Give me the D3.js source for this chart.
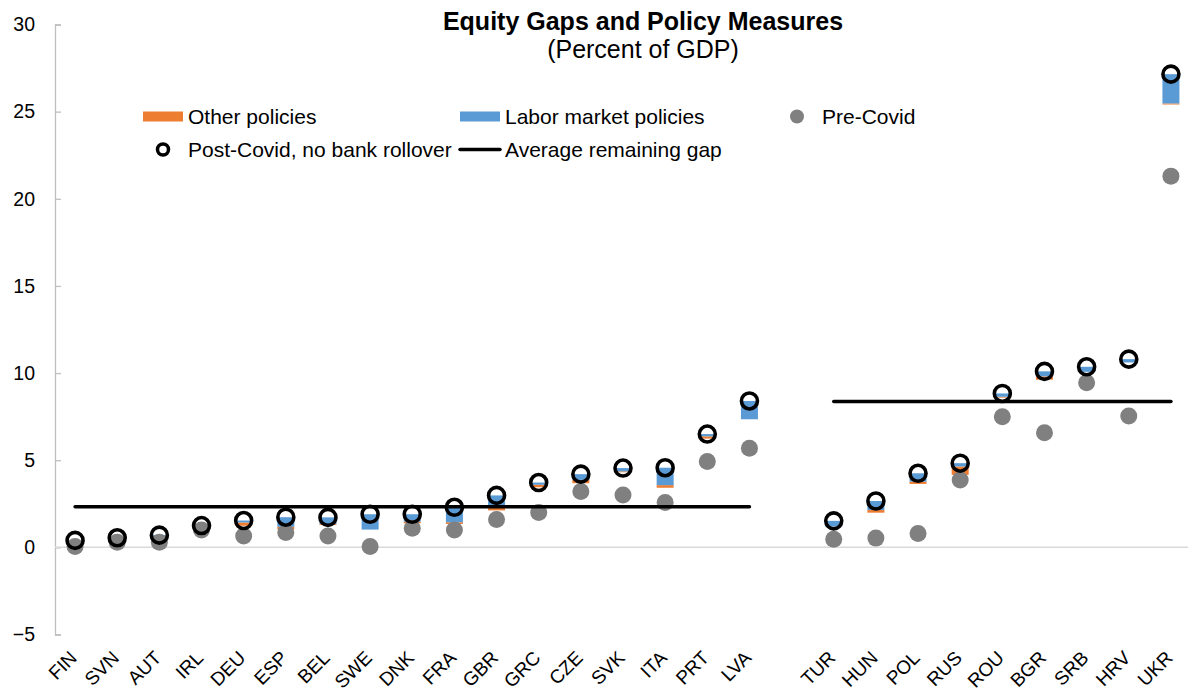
<!DOCTYPE html>
<html>
<head>
<meta charset="utf-8">
<script src="https://cdn.jsdelivr.net/npm/d3@7"></script>
<style>
  body { margin: 0; background: #fff; }
  text { font-family: "Liberation Sans", Arial, sans-serif; fill: #000; }
</style>
</head>
<body>
<div id="viz"></div>
<script>
const domID = "#viz"
const width = 1188, height = 694

// categories ("" = empty slot between the two country groups)
const categories = ["FIN", "SVN", "AUT", "IRL", "DEU", "ESP", "BEL", "SWE", "DNK", "FRA", "GBR", "GRC", "CZE", "SVK", "ITA", "PRT", "LVA", "",
    "TUR", "HUN", "POL", "RUS", "ROU", "BGR", "SRB", "HRV", "UKR"]

// Post-Covid, no bank rollover
const postCovid = [0.4, 0.55, 0.7, 1.25, 1.54, 1.73, 1.72, 1.9, 1.9, 2.3, 2.98, 3.72, 4.2, 4.55, 4.57, 6.5, 8.4, null,
    1.52, 2.66, 4.25, 4.83, 8.83, 10.1, 10.36, 10.8, 27.15]
// Pre-Covid
const preCovid = [0.05, 0.3, 0.3, 1.0, 0.65, 0.85, 0.65, 0.05, 1.1, 1.0, 1.6, 2.0, 3.2, 3.0, 2.57, 4.92, 5.68, null,
    0.47, 0.53, 0.79, 3.87, 7.5, 6.58, 9.45, 7.54, 21.3]
// policy measures (stacked just below the post-Covid value)
const laborPolicies = [0.1, 0.1, 0.1, 0.15, 0.11, 0.55, 0.38, 0.88, 0.42, 0.86, 0.63, 0.13, 0.33, 0.19, 1.0, 0.13, 1.05, null,
    0.33, 0.52, 0.48, 0.19, 0.19, 0.29, 0.29, 0.19, 1.68]
const otherPolicies = [0, 0, 0, 0.05, 0.19, 0.15, 0.05, 0, 0.1, 0.1, 0.23, 0.14, 0.19, 0.05, 0.15, 0.13, 0, null,
    0, 0.15, 0.13, 0.48, 0.05, 0.19, 0, 0, 0.06]

// Average remaining gap per group
const avgFrom = ["FIN", "TUR"]
const avgTo = ["LVA", "UKR"]
const avgValue = [2.33, 8.37]

const yTicks = [-5, 0, 5, 10, 15, 20, 25, 30]

const colors = {
    other: "#ED7D31",
    labor: "#5B9BD5",
    pre: "#808080",
    axis: "#BFBFBF",
}

let svg = d3.select(domID).append("svg")
    .attr("width", width).attr("height", height)

const x = d3.scaleBand().domain(categories).range([54, 1192]).padding(0)
const y = d3.scaleLinear().domain([-5, 30]).range([634.5, 24.5])
const barW = 17
const cx = d => x(d) + x.bandwidth() / 2

// y axis
const yAxis = d3.axisLeft(y).tickValues(yTicks).tickSize(-6).tickPadding(20).tickFormat(d3.format("d"))
let gy = svg.append("g").attr("transform", "translate(55,0)").call(yAxis)
gy.select(".domain").attr("stroke", colors.axis).attr("stroke-width", 1.3)
gy.selectAll(".tick line").attr("stroke", colors.axis).attr("stroke-width", 1.3)
gy.selectAll(".tick text").attr("font-size", 19.5).attr("font-family", "Liberation Sans, Arial, sans-serif").attr("fill", "#000")

// zero line
svg.append("line")
    .attr("x1", 55).attr("x2", width).attr("y1", y(0)).attr("y2", y(0))
    .attr("stroke", "#D9D9D9").attr("stroke-width", 1.5)

// x labels
svg.append("g").selectAll("text")
    .data(categories.filter(d => d !== ""))
    .join("text")
    .attr("transform", d => `translate(${cx(d) + 3},${659}) rotate(-45)`)
    .attr("text-anchor", "end")
    .attr("font-size", 19)
    .text(d => d)

// stacked bars (base is invisible)
const rows = categories.map((c, i) => ({ c, post: postCovid[i], pre: preCovid[i], labor: laborPolicies[i], other: otherPolicies[i] }))
    .filter(d => d.c !== "")

const bars = svg.append("g")
bars.selectAll("rect.other").data(rows).join("rect").attr("class", "other")
    .attr("x", d => cx(d.c) - barW / 2)
    .attr("width", barW)
    .attr("y", d => y(d.post - d.labor))
    .attr("height", d => y(d.post - d.labor - d.other) - y(d.post - d.labor))
    .attr("fill", colors.other)
bars.selectAll("rect.labor").data(rows).join("rect").attr("class", "labor")
    .attr("x", d => cx(d.c) - barW / 2)
    .attr("width", barW)
    .attr("y", d => y(d.post))
    .attr("height", d => y(d.post - d.labor) - y(d.post))
    .attr("fill", colors.labor)

// pre-covid dots
svg.append("g").selectAll("circle").data(rows).join("circle")
    .attr("cx", d => cx(d.c))
    .attr("cy", d => y(d.pre))
    .attr("r", 8.5)
    .attr("fill", colors.pre)

// average lines
svg.append("g").selectAll("line").data(avgValue).join("line")
    .attr("x1", (d, i) => cx(avgFrom[i]))
    .attr("x2", (d, i) => cx(avgTo[i]))
    .attr("y1", d => y(d)).attr("y2", d => y(d))
    .attr("stroke", "#000").attr("stroke-width", 3.5).attr("stroke-linecap", "round")

// post-covid open circles
svg.append("g").selectAll("circle").data(rows).join("circle")
    .attr("cx", d => cx(d.c))
    .attr("cy", d => y(d.post))
    .attr("r", 8)
    .attr("fill", "none")
    .attr("stroke", "#000").attr("stroke-width", 3.6)

// title
svg.append("text").attr("x", 643).attr("y", 30).attr("text-anchor", "middle")
    .attr("font-size", 25).attr("font-weight", "bold").text("Equity Gaps and Policy Measures")
svg.append("text").attr("x", 643).attr("y", 58).attr("text-anchor", "middle")
    .attr("font-size", 25).text("(Percent of GDP)")

// legend
const lg = svg.append("g").attr("font-size", 21)
lg.append("rect").attr("x", 143).attr("y", 111.5).attr("width", 40).attr("height", 10).attr("fill", colors.other)
lg.append("text").attr("x", 188).attr("y", 123.5).text("Other policies")
lg.append("rect").attr("x", 460).attr("y", 111.5).attr("width", 40).attr("height", 10).attr("fill", colors.labor)
lg.append("text").attr("x", 505).attr("y", 123.5).text("Labor market policies")
lg.append("circle").attr("cx", 797).attr("cy", 116.5).attr("r", 7).attr("fill", colors.pre)
lg.append("text").attr("x", 822).attr("y", 123.5).text("Pre-Covid")
lg.append("circle").attr("cx", 163).attr("cy", 149.5).attr("r", 5.5).attr("fill", "none").attr("stroke", "#000").attr("stroke-width", 3.5)
lg.append("text").attr("x", 188).attr("y", 156.5).text("Post-Covid, no bank rollover")
lg.append("line").attr("x1", 460).attr("x2", 500).attr("y1", 149.5).attr("y2", 149.5)
    .attr("stroke", "#000").attr("stroke-width", 3.5).attr("stroke-linecap", "round")
lg.append("text").attr("x", 505).attr("y", 156.5).text("Average remaining gap")
</script>
</body>
</html>
